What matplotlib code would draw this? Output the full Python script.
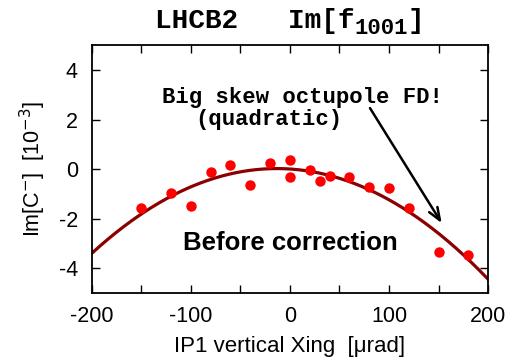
import numpy as np
import matplotlib
matplotlib.use("Agg")
import matplotlib.pyplot as plt
from matplotlib.ticker import MultipleLocator, FuncFormatter

# Measured Im[C-] (units of 1e-3) versus IP1 vertical crossing angle (urad)
xing = [-150, -120, -100, -80, -60, -40, -20, 0, 0, 20, 30, 40, 60, 80, 100, 120, 150, 180]
im_c = [-1.56, -0.96, -1.48, -0.13, 0.16, -0.66, 0.23, 0.36, -0.30, -0.05, -0.50, -0.28,
        -0.30, -0.73, -0.75, -1.55, -3.33, -3.45]

# Quadratic fit coefficients: a*x^2 + b*x + c
fit_coeffs = [-9.81e-5, -2.61e-3, 0.003]

plt.rcParams['font.family'] = ['Liberation Sans', 'DejaVu Sans']
plt.rcParams['axes.unicode_minus'] = False
fig = plt.figure(figsize=(5.10, 3.64), dpi=100)
ax = fig.add_axes([0.180, 0.195, 0.777, 0.681])

xf = np.linspace(-200, 200, 400)
ax.plot(xf, np.polyval(fit_coeffs, xf), color='#8b0000', lw=2.3, zorder=2)
ax.plot(xing, im_c, 'o', color='#ff0000', ms=7.5, mec='none', zorder=3)

ax.set_xlim(-200, 200)
ax.set_ylim(-5, 5)
ax.xaxis.set_major_locator(MultipleLocator(100))
ax.xaxis.set_minor_locator(MultipleLocator(50))
ax.yaxis.set_major_locator(MultipleLocator(2))
fmt = FuncFormatter(lambda v, p: '%d' % round(v))
ax.xaxis.set_major_formatter(fmt)
ax.yaxis.set_major_formatter(fmt)
ax.tick_params(which='both', direction='in', top=True, right=True, length=6, width=1.0,
               labelsize=15.5)
ax.tick_params(axis='x', pad=9)
ax.tick_params(axis='y', pad=10)
for s in ax.spines.values():
    s.set_linewidth(1.3)

ax.set_xlabel('IP1 vertical Xing  [\u03bcrad]', fontsize=16, labelpad=7)
ax.set_ylabel(r'Im[C$^{-}$]  [10$^{-3}$]', fontsize=15.5, labelpad=8)

mono = ['Liberation Mono', 'DejaVu Sans Mono']

# Title built from pieces so the subscript keeps the typewriter face
fig.canvas.draw()
renderer = fig.canvas.get_renderer()
inv = fig.transFigure.inverted()
title_y = 1 - 21 / 364
parts = [('LHCB2   Im[f', 20, 0.0), ('1001', 16, -7.0), (']', 20, 0.0)]
widths = []
for s, fs, dy in parts:
    t = fig.text(0, 0, s, family=mono, fontweight='bold', fontsize=fs)
    bb = t.get_window_extent(renderer)
    widths.append(bb.width)
    t.remove()
total = sum(widths)
x_px = 0.568 * fig.bbox.width - total / 2
for (s, fs, dy), w in zip(parts, widths):
    fig.text(x_px / fig.bbox.width, title_y + dy / fig.bbox.height, s, family=mono,
             fontweight='bold', fontsize=fs, ha='left', va='center')
    x_px += w

ax.text(-129, 2.90, 'Big skew octupole FD!', family=mono, fontweight='bold', fontsize=16,
        ha='left', va='center')
ax.text(-96, 1.98, '(quadratic)', family=mono, fontweight='bold', fontsize=16,
        ha='left', va='center')
ax.annotate('', xy=(153.2, -2.18), xytext=(80.8, 2.46),
            arrowprops=dict(arrowstyle='->,head_length=0.9,head_width=0.35', color='black',
                            lw=1.8, shrinkA=0, shrinkB=0))

ax.text(0, -3.0, 'Before correction', fontsize=18.5, fontweight='bold', ha='center', va='center')

fig.savefig('out.png', dpi=100)
